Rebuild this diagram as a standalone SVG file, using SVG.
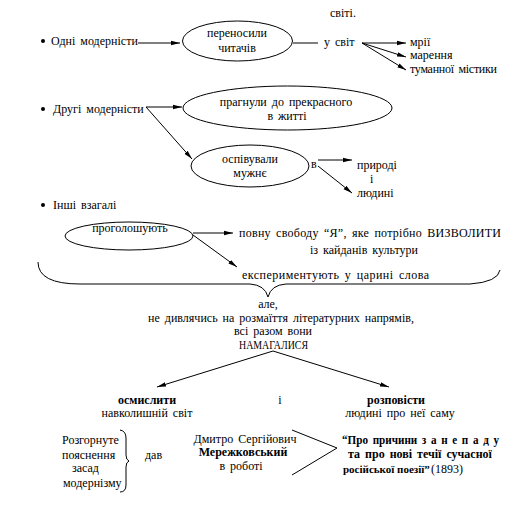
<svg xmlns="http://www.w3.org/2000/svg" width="523" height="507" viewBox="0 0 523 507">
<style>
text{font-family:"Liberation Serif","Times New Roman","DejaVu Serif",serif;font-size:12px;fill:#000;word-spacing:2px}
.c{text-anchor:middle}
.b{font-weight:bold}
.big{font-size:13px}
.ln{stroke:#000;stroke-width:1;fill:none}
.el{stroke:#000;stroke-width:1;fill:#fff}
</style>
<defs>
<marker id="ah" markerUnits="userSpaceOnUse" markerWidth="10" markerHeight="6" refX="9" refY="3" orient="auto">
<path d="M0,0.8 L9,3 L0,5.2 Z" fill="#000"/>
</marker>
</defs>
<rect width="523" height="507" fill="#fff"/>
<g id="connectors">
<line class="ln" x1="138" y1="43" x2="180" y2="43" marker-end="url(#ah)"/>
<line class="ln" x1="293" y1="43" x2="318" y2="43"/>
<line class="ln" x1="362" y1="43" x2="406" y2="43" marker-end="url(#ah)"/>
<line class="ln" x1="362" y1="43" x2="406" y2="57" marker-end="url(#ah)"/>
<line class="ln" x1="362" y1="43" x2="406" y2="70" marker-end="url(#ah)"/>
<line class="ln" x1="146" y1="107" x2="182" y2="107" marker-end="url(#ah)"/>
<line class="ln" x1="146" y1="107" x2="192" y2="159" marker-end="url(#ah)"/>
<line class="ln" x1="318" y1="160" x2="352" y2="160" marker-end="url(#ah)"/>
<line class="ln" x1="318" y1="166" x2="352" y2="193" marker-end="url(#ah)"/>
<line class="ln" x1="193" y1="233" x2="233" y2="233" marker-end="url(#ah)"/>
<line class="ln" x1="193" y1="235" x2="237" y2="267" marker-end="url(#ah)"/>
<path class="ln" d="M38,262 Q38,284 80,284 L250,284 Q265,285 268,297 Q271,285 286,284 L470,284 Q498,282 500,270"/>
<line class="ln" x1="273" y1="351" x2="157" y2="387" marker-end="url(#ah)"/>
<line class="ln" x1="273" y1="351" x2="389" y2="387" marker-end="url(#ah)"/>
<path class="ln" d="M120,430 Q126,431 126,438 L126,455 Q126,460 129,461 Q126,462 126,467 L126,485 Q126,492 120,492"/>
<polyline class="ln" points="292,430 337,448 292,475"/>
</g>
<text x="330" y="17">світі.</text>
<g id="bullet1">
<circle cx="43" cy="41" r="2"/>
<text x="51" y="45">Одні модерністи</text>
</g>
<g id="node-perenosyly">
<ellipse class="el" cx="237.5" cy="41" rx="55" ry="20"/>
<text class="c" x="237" y="37">переносили</text>
<text class="c" x="237" y="52">читачів</text>
</g>
<g id="node-u-svit"><text x="324" y="46">у світ</text></g>
<g id="node-mrii"><text x="410" y="46">мрії</text></g>
<g id="node-marennia"><text x="410" y="59">марення</text></g>
<g id="node-mistyky"><text x="410" y="73" textLength="87" lengthAdjust="spacing">туманної містики</text></g>
<g id="bullet2">
<circle cx="43" cy="109" r="2"/>
<text x="53" y="113">Другі модерністи</text>
</g>
<g id="node-prahnuly">
<ellipse class="el" cx="287.5" cy="108" rx="104.5" ry="22"/>
<text class="c" x="286" y="106">прагнули до прекрасного</text>
<text class="c" x="287" y="120">в житті</text>
</g>
<g id="node-ospivuvaly">
<ellipse class="el" cx="250" cy="166" rx="59" ry="21"/>
<text class="c" x="250" y="163">оспівували</text>
<text class="c" x="250" y="177">мужнє</text>
</g>
<g id="node-v"><text x="311" y="168">в</text></g>
<g id="node-pryrodi">
<text x="357" y="169">природі</text>
<text x="370" y="183">і</text>
<text x="357" y="197">людині</text>
</g>
<g id="bullet3">
<circle cx="43" cy="205" r="2"/>
<text x="53" y="209">Інші взагалі</text>
</g>
<g id="node-proholoshuiut">
<ellipse class="el" cx="129" cy="236" rx="64" ry="14"/>
<text class="c" x="130" y="232">проголошують</text>
</g>
<g id="node-svobodu">
<text x="239" y="237" textLength="262" lengthAdjust="spacing">повну свободу “Я”, яке потрібно ВИЗВОЛИТИ</text>
<text x="310" y="254">із кайданів культури</text>
</g>
<g id="node-eksperyment"><text x="242" y="279" textLength="187" lengthAdjust="spacing">експериментують у царині слова</text></g>
<g id="node-ale">
<text class="c" x="268" y="308">але,</text>
<text class="c" x="281" y="322">не дивлячись на розмаїття літературних напрямів,</text>
<text class="c" x="273" y="335">всі разом вони</text>
<text class="big" x="239" y="349" textLength="69" lengthAdjust="spacingAndGlyphs">НАМАГАЛИСЯ</text>
</g>
<g id="node-osmyslyty">
<text class="c b" x="147" y="404">осмислити</text>
<text class="c" x="147" y="417">навколишній світ</text>
</g>
<g id="node-i"><text class="c" x="280" y="404">і</text></g>
<g id="node-rozpovisty">
<text class="c b" x="396" y="404">розповісти</text>
<text class="c" x="400" y="417">людині про неї саму</text>
</g>
<g id="node-rozhornute">
<text x="62" y="444">Розгорнуте</text>
<text x="62" y="459">пояснення</text>
<text x="72" y="472">засад</text>
<text x="63" y="487">модернізму</text>
</g>
<g id="node-dav"><text x="145" y="459">дав</text></g>
<g id="node-merezhkovskyi">
<text class="c" x="245" y="443">Дмитро Сергійович</text>
<text class="c b" x="243" y="456">Мережковський</text>
<text class="c" x="241" y="470">в роботі</text>
</g>
<g id="node-robota">
<text class="b" x="342" y="444" textLength="157" lengthAdjust="spacingAndGlyphs">“Про причини з а н е п а д у</text>
<text class="b" x="348" y="458">та про нові течії сучасної</text>
<text class="b" x="343" y="473" style="font-size:11px;word-spacing:0">російської поезії”</text>
<text x="431" y="473">(1893)</text>
</g>
</svg>
